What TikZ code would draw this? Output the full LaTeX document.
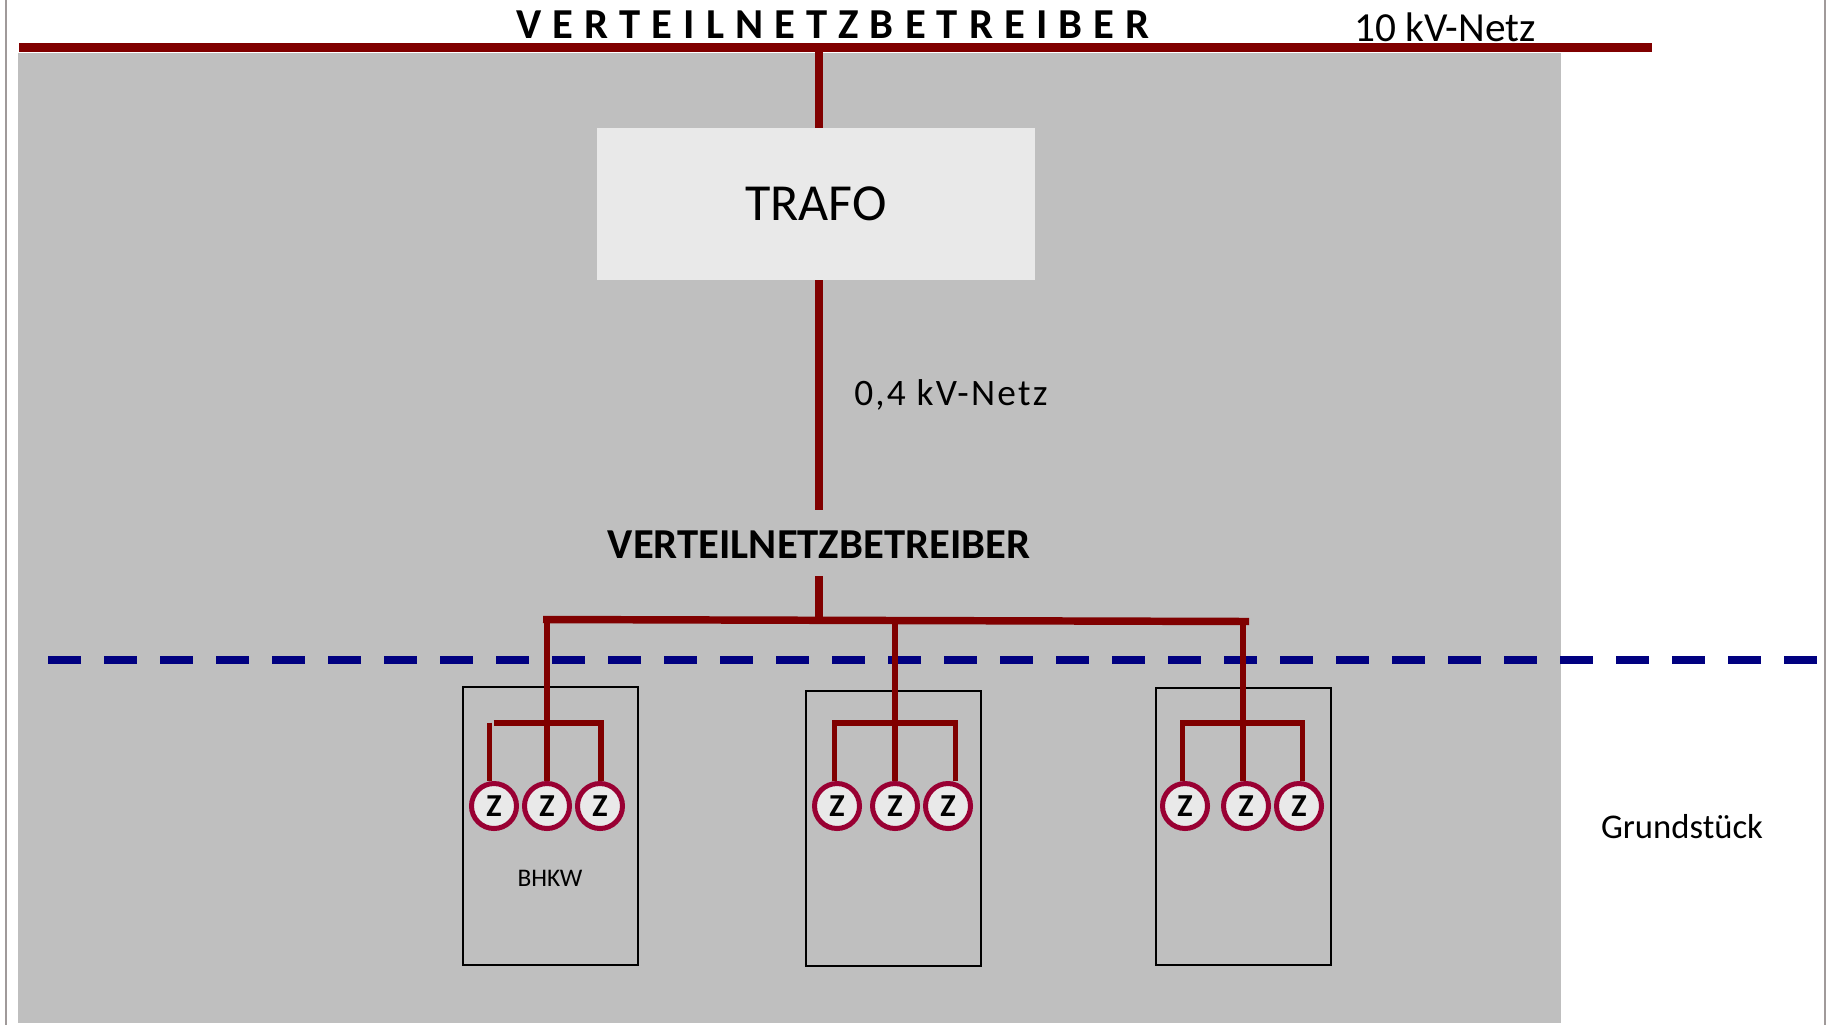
\documentclass[tikz,border=0pt]{standalone}
\usepackage{fontspec}
\setmainfont{Carlito}
\newfontfamily\sperrfont[LetterSpace=26]{Carlito}
\newfontfamily\weitfont[LetterSpace=6]{Carlito}
\definecolor{netzrot}{HTML}{800000}
\definecolor{zaehlerrot}{HTML}{990033}
\definecolor{grenzblau}{HTML}{000080}
\definecolor{gelaende}{HTML}{BFBFBF}
\definecolor{hellgrau}{HTML}{E9E9E9}
\definecolor{rahmengrau}{HTML}{A09A9A}
\tikzset{
    netz10/.style={draw=netzrot,line width=6.4pt},
    netzstich/.style={draw=netzrot,line width=6pt},
    sammel/.style={draw=netzrot,line width=5.6pt},
    abgang/.style={draw=netzrot,line width=4.2pt},
    grenze/.style={draw=grenzblau,line width=5.6pt,dash pattern=on 24.4pt off 17.6pt},
    rahmen/.style={draw=rahmengrau,line width=1.2pt},
    trafobox/.style={fill=hellgrau,inner sep=0pt,minimum width=328.5pt,minimum height=114pt,font=\fontsize{39}{39}\selectfont},
    hausbox/.style={draw=black,line width=1.8pt,anchor=north west,minimum width=131.25pt,inner sep=0pt},
    zaehler/.style={circle,draw=zaehlerrot,fill=hellgrau,line width=3.75pt,minimum size=33.75pt,inner sep=0pt,font=\bfseries\fontsize{24}{24}\selectfont},
    beschriftung/.style={inner sep=0.75pt,font=\fontsize{26}{26}\selectfont}
}
\begin{document}
\begin{tikzpicture}[x=0.75pt,y=0.75pt,yscale=-1,xscale=1]
    \useasboundingbox (0,0) rectangle (1826,1025);

    % Background
    \fill[white] (0,0) rectangle (1826,1025);
    \fill[gelaende] (18,53) rectangle (1561,1023);
    \draw[rahmen] (6,0) -- (6,1025);
    \draw[rahmen] (1825,0) -- (1825,1025);

    % Boundary
    \coordinate (grenzeL) at (48,660);
    \coordinate (grenzeR) at (1816.5,660);
    \draw[grenze] (grenzeL) -- (grenzeR);

    % Text Node
    \node (titel) [beschriftung,font=\sperrfont\bfseries\fontsize{32}{32}\selectfont] at (833,25) {VERTEILNETZBETREIBER};
    % Text Node
    \node (netz10) [beschriftung,font=\fontsize{31}{31}\selectfont] at (1445,27) {10 kV-Netz};
    % Text Node
    \node (trafo) [trafobox] at (816,204) {TRAFO};
    % Text Node
    \node (netz04) [beschriftung,font=\weitfont\fontsize{28}{28}\selectfont,anchor=west] at (853,395) {0,4 kV-Netz};
    % Text Node
    \node (vnb) [inner sep=0pt,minimum height=49.5pt,font=\bfseries\fontsize{32}{32}\selectfont] at (819,543) {\raisebox{-11.5pt}[0pt][0pt]{VERTEILNETZBETREIBER}};
    % Text Node
    \node (grund) [beschriftung] at (1682,827) {Grundstück};

    % Houses
    \node (haus1) [hausbox,minimum height=208.5pt] at (461.5,686) {};
    \node (haus2) [hausbox,minimum height=206.25pt] at (805,690) {};
    \node (haus3) [hausbox,minimum height=207.75pt] at (1155,687) {};
    % Text Node
    \node (bhkw) [inner sep=0.75pt,font=\fontsize{19}{19}\selectfont] at (550,878) {BHKW};

    % Meters
    \node (z1a) [zaehler] at (494,806) {Z};
    \node (z1b) [zaehler] at (547,806) {Z};
    \node (z1c) [zaehler] at (600,806) {Z};
    \node (z2a) [zaehler] at (837,806) {Z};
    \node (z2b) [zaehler] at (895,806) {Z};
    \node (z2c) [zaehler] at (948,806) {Z};
    \node (z3a) [zaehler] at (1185,806) {Z};
    \node (z3b) [zaehler] at (1246,806) {Z};
    \node (z3c) [zaehler] at (1299,806) {Z};

    % Junctions
    \coordinate (netzL) at (19,47.5);
    \coordinate (netzR) at (1652,47.5);
    \coordinate (abzweig) at (819,47.5);
    \coordinate (busL) at (543,619.5);
    \coordinate (busM) at (819,620.2);
    \coordinate (busR) at (1249,621.5);
    \coordinate (bus1) at (547,617);
    \coordinate (bus2) at (895,618);
    \coordinate (bus3) at (1243,619);
    \coordinate (sub1L) at (493.5,722.7);
    \coordinate (sub1R) at (601,722.7);
    \coordinate (sub2L) at (832.5,722.7);
    \coordinate (sub2R) at (957,722.7);
    \coordinate (sub3L) at (1180.5,722.7);
    \coordinate (sub3R) at (1304.5,722.7);
    \coordinate (ab1L) at (489.6,722.7);
    \coordinate (ab1R) at (600.7,720);
    \coordinate (ab2L) at (834.6,720);
    \coordinate (ab2R) at (955.4,720);
    \coordinate (ab3L) at (1182.4,720);
    \coordinate (ab3R) at (1302.5,720);

    %Straight Lines
    \draw[netz10] (netzL) -- (netzR);
    \draw[netzstich] (abzweig) -- (trafo.north -| abzweig);
    \draw[netzstich] (trafo.south -| abzweig) -- (vnb.north);
    \draw[netzstich] (vnb.south) -- (busM);
    \draw[sammel] (busL) -- (busR);
    %Straight Lines
    \draw[abgang] (bus1) -- (z1b.north);
    \draw[abgang] (bus2) -- (z2b.north);
    \draw[abgang] (bus3) -- (bus3 |- z3b.north);
    %Straight Lines
    \draw[abgang] (sub1L) -- (sub1R);
    \draw[abgang] (sub2L) -- (sub2R);
    \draw[abgang] (sub3L) -- (sub3R);
    %Straight Lines
    \draw[abgang] (ab1L) -- (ab1L |- z1a.north);
    \draw[abgang] (ab1R) -- (ab1R |- z1c.north);
    \draw[abgang] (ab2L) -- (ab2L |- z2a.north);
    \draw[abgang] (ab2R) -- (ab2R |- z2c.north);
    \draw[abgang] (ab3L) -- (ab3L |- z3a.north);
    \draw[abgang] (ab3R) -- (ab3R |- z3c.north);
\end{tikzpicture}
\end{document}
